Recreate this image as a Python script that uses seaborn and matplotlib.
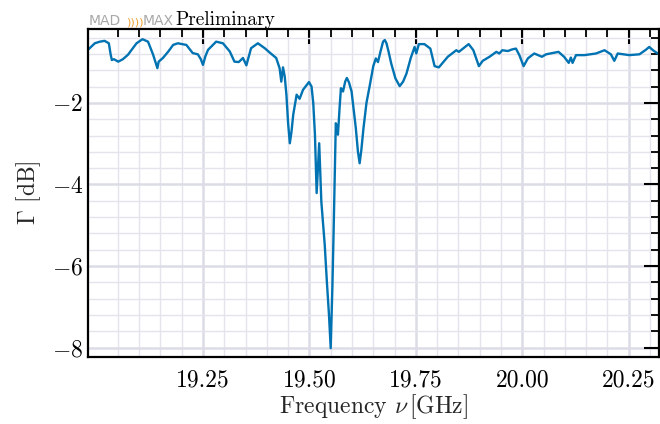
import numpy as np
import seaborn as sns
import matplotlib.pyplot as plt
from matplotlib.ticker import MultipleLocator, FixedLocator

freq = [18.980, 18.996, 19.008, 19.019, 19.029, 19.033, 19.036, 19.041, 19.051, 19.062,
        19.074, 19.094, 19.108, 19.121, 19.133, 19.141, 19.143, 19.146, 19.156, 19.168,
        19.180, 19.191, 19.211, 19.226, 19.238, 19.245, 19.250, 19.256, 19.262, 19.281,
        19.297, 19.313, 19.324, 19.334, 19.344, 19.352, 19.363, 19.379, 19.395, 19.406,
        19.422, 19.430, 19.434, 19.438, 19.442, 19.446, 19.450, 19.454, 19.458, 19.462,
        19.470, 19.477, 19.485, 19.499, 19.505, 19.509, 19.513, 19.517, 19.523, 19.528,
        19.536, 19.541, 19.546, 19.550, 19.554, 19.557, 19.560, 19.562, 19.565, 19.567,
        19.571, 19.574, 19.577, 19.579, 19.584, 19.588, 19.593, 19.599, 19.609, 19.614,
        19.618, 19.622, 19.627, 19.634, 19.642, 19.650, 19.656, 19.661, 19.667, 19.673,
        19.677, 19.681, 19.686, 19.692, 19.702, 19.712, 19.720, 19.728, 19.738, 19.747,
        19.751, 19.757, 19.770, 19.784, 19.794, 19.804, 19.825, 19.845, 19.851, 19.874,
        19.885, 19.898, 19.907, 19.923, 19.939, 19.946, 19.953, 19.966, 19.976, 19.985,
        19.993, 20.003, 20.013, 20.028, 20.046, 20.056, 20.085, 20.098, 20.109, 20.114,
        20.118, 20.126, 20.146, 20.173, 20.193, 20.208, 20.216, 20.224, 20.251, 20.275,
        20.290, 20.298, 20.308, 20.321]
gamma_db = [-0.70, -0.54, -0.50, -0.48, -0.54, -0.80, -0.95, -0.93, -0.99, -0.93,
            -0.82, -0.54, -0.44, -0.50, -0.82, -1.08, -1.15, -0.99, -0.90, -0.75,
            -0.58, -0.54, -0.58, -0.78, -0.81, -0.93, -1.07, -0.85, -0.70, -0.50,
            -0.54, -0.74, -0.99, -1.00, -0.90, -1.08, -0.66, -0.54, -0.66, -0.76,
            -0.90, -1.15, -1.48, -1.13, -1.35, -1.80, -2.50, -2.99, -2.70, -2.29,
            -1.80, -1.90, -1.68, -1.49, -1.60, -2.00, -2.78, -4.21, -2.99, -4.42,
            -5.48, -6.38, -7.20, -8.01, -6.50, -5.07, -3.50, -2.50, -2.60, -2.78,
            -2.10, -1.64, -1.70, -1.72, -1.48, -1.39, -1.50, -1.72, -2.62, -3.20,
            -3.48, -3.15, -2.62, -2.00, -1.56, -1.10, -0.91, -1.00, -0.74, -0.50,
            -0.46, -0.54, -0.75, -1.03, -1.40, -1.59, -1.48, -1.28, -0.90, -0.63,
            -0.79, -0.56, -0.56, -0.67, -1.10, -1.13, -0.87, -0.71, -0.75, -0.56,
            -0.71, -1.10, -0.97, -0.87, -0.75, -0.79, -0.71, -0.73, -0.69, -0.67,
            -0.83, -1.10, -0.91, -0.79, -0.87, -0.81, -0.75, -0.87, -1.02, -0.89,
            -1.02, -0.83, -0.83, -0.79, -0.71, -0.81, -0.97, -0.79, -0.83, -0.81,
            -0.70, -0.63, -0.72, -0.81]
xticks_major = [19.25, 19.50, 19.75, 20.00, 20.25]

sns.set_theme(style="whitegrid")
plt.rcParams['font.family'] = ['cmr10', 'DejaVu Serif']
plt.rcParams['mathtext.fontset'] = 'cm'
plt.rcParams['axes.formatter.use_mathtext'] = True

fig = plt.figure(figsize=(6.6, 4.24), dpi=100)
ax = fig.add_axes([0.1333, 0.1587, 0.8652, 0.7729])

sns.lineplot(x=freq, y=gamma_db, ax=ax, color='#0173B2', linewidth=1.7)

ax.set_xlim(18.980, 20.321)
ax.set_ylim(-8.22, -0.19)
ax.xaxis.set_major_locator(FixedLocator(xticks_major))
ax.xaxis.set_minor_locator(FixedLocator(np.arange(19.05, 20.33, 0.05)))
ax.yaxis.set_major_locator(MultipleLocator(2))
ax.yaxis.set_minor_locator(MultipleLocator(0.4))
ax.xaxis.set_major_formatter(plt.FormatStrFormatter('%.2f'))

ax.grid(which='major', color='#dcdce6', linewidth=1.8)
ax.grid(which='minor', color='#e4e4ec', linewidth=1.0)
ax.set_axisbelow(True)

ax.tick_params(which='both', direction='in', top=True, right=True, colors='black',
               labelsize=17)
ax.tick_params(which='major', length=11, width=1.5)
ax.tick_params(which='minor', length=6, width=1.3)
ax.tick_params(axis='x', which='major', pad=9)
for s in ax.spines.values():
    s.set_color('black')
    s.set_linewidth(1.6)

ax.set_xlabel(r'Frequency $\nu\,$[GHz]', fontsize=17, labelpad=1)
ax.set_ylabel(r'$\Gamma$ [dB]', fontsize=17, labelpad=6)

# logo + preliminary tag
fig.text(0.134, 0.940, 'MAD', color='#a8a8a8', fontsize=10, family='DejaVu Sans')
fig.text(0.191, 0.940, '))))', color='#f0a030', fontsize=8, family='DejaVu Sans')
fig.text(0.216, 0.940, 'MAX', color='#a8a8a8', fontsize=10, family='DejaVu Sans')
fig.text(0.265, 0.940, 'Preliminary', color='black', fontsize=14)

fig.savefig('out.png', dpi=100)
